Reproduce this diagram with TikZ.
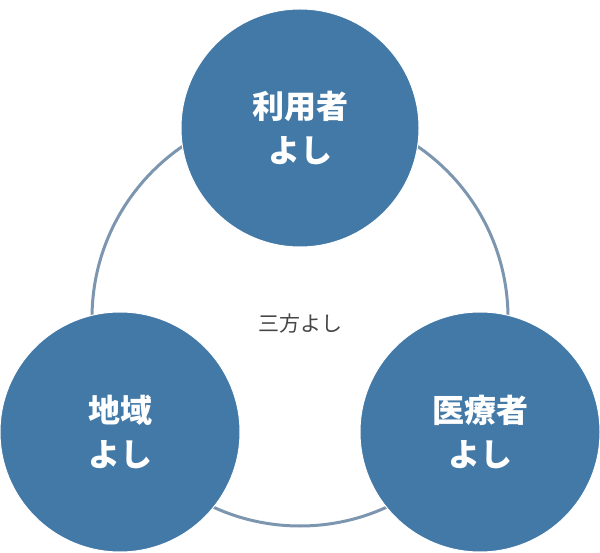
\documentclass[tikz,border=0pt]{standalone}
\usepackage{fontspec}
\newfontfamily\cjk{Noto Sans CJK JP}
\begin{document}
\begin{tikzpicture}[x=1pt,y=1pt]
\definecolor{ballcolor}{RGB}{66,121,167}
\definecolor{ringcolor}{RGB}{125,150,175}
\definecolor{textcolor}{RGB}{70,70,70}
\tikzset{
  ball/.style={circle,fill=ballcolor,draw=white,line width=1pt,minimum size=#1,inner sep=0pt,
    text=white,align=center,font=\cjk\bfseries\fontsize{32}{44}\selectfont},
}
\useasboundingbox (0,0) rectangle (600,552);
\node [circle,draw=ringcolor,line width=3pt,fill=white,minimum size=416pt] (ring) at (300,234) {};
\node [font=\cjk\fontsize{21}{24}\selectfont,text=textcolor] (center) at (300,228) {三方よし};
\node [ball=238pt] (user) at (300,424) {利用者\\よし};
\node [ball=240pt] (area) at (120,120) {地域\\よし};
\node [ball=240pt] (care) at (480,120) {医療者\\よし};
\end{tikzpicture}
\end{document}
